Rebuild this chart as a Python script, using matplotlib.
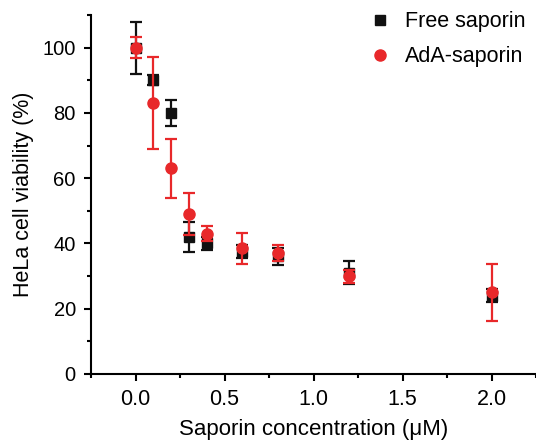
import matplotlib
matplotlib.use("Agg")
import matplotlib.pyplot as plt
from matplotlib.ticker import MultipleLocator

plt.rcParams.update({
    "font.family": ["Liberation Sans", "DejaVu Sans"],
    "font.size": 14,
})

# ── Data ─────────────────────────────────────────────────────────────────────
conc = [0.0, 0.1, 0.2, 0.3, 0.4, 0.6, 0.8, 1.2, 2.0]

free_mean = [100, 90, 80, 42, 40, 37.5, 36, 31, 24]
free_err = [8, 1.5, 4, 4.5, 2, 2, 2.5, 3.5, 2]

ada_mean = [100, 83, 63, 49, 43, 38.5, 37, 30, 25]
ada_err = [3.2, 14, 9, 6.5, 2.2, 4.7, 2.5, 2, 8.7]

BLACK = "#111111"
RED = "#E8282A"

fig = plt.figure(figsize=(5.36, 4.42), dpi=100)
ax = fig.add_axes([0.170, 0.154, 0.83, 0.812])

ax.errorbar(conc, free_mean, yerr=free_err, fmt="s", color=BLACK, ms=7,
            elinewidth=1.6, capsize=4.5, capthick=1.6, label="Free saporin", zorder=3)
ax.errorbar(conc, ada_mean, yerr=ada_err, fmt="o", color=RED, ms=8,
            elinewidth=1.6, capsize=4.5, capthick=1.6, label="AdA-saporin", zorder=4)

ax.set_xlim(-0.25, 2.25)
ax.set_ylim(0, 110)
ax.xaxis.set_major_locator(MultipleLocator(0.5))
ax.xaxis.set_minor_locator(MultipleLocator(0.25))
ax.yaxis.set_major_locator(MultipleLocator(20))
ax.yaxis.set_minor_locator(MultipleLocator(10))
ax.xaxis.set_major_formatter(plt.FormatStrFormatter("%.1f"))

for s in ["top", "right"]:
    ax.spines[s].set_visible(False)
for s in ["left", "bottom"]:
    ax.spines[s].set_linewidth(1.5)
ax.tick_params(which="major", direction="out", length=5, width=1.5, pad=6)
ax.tick_params(which="minor", direction="out", length=3, width=1.5)
ax.tick_params(axis="x", labelsize=15.5, pad=6)
ax.tick_params(axis="y", labelsize=14.5, pad=6)

ax.set_xlabel("Saporin concentration (μM)", fontsize=16, labelpad=6)
ax.set_ylabel("HeLa cell viability (%)", fontsize=15.5, labelpad=6)

handles, labels = ax.get_legend_handles_labels()
handles = [h[0] for h in handles]
ax.legend(handles, labels, loc="upper right", frameon=False, fontsize=15.5,
          handletextpad=0.4, labelspacing=0.65, borderaxespad=0.1,
          handlelength=1.5, bbox_to_anchor=(1.0, 1.04))

fig.savefig("out.png", dpi=100, facecolor="white")
